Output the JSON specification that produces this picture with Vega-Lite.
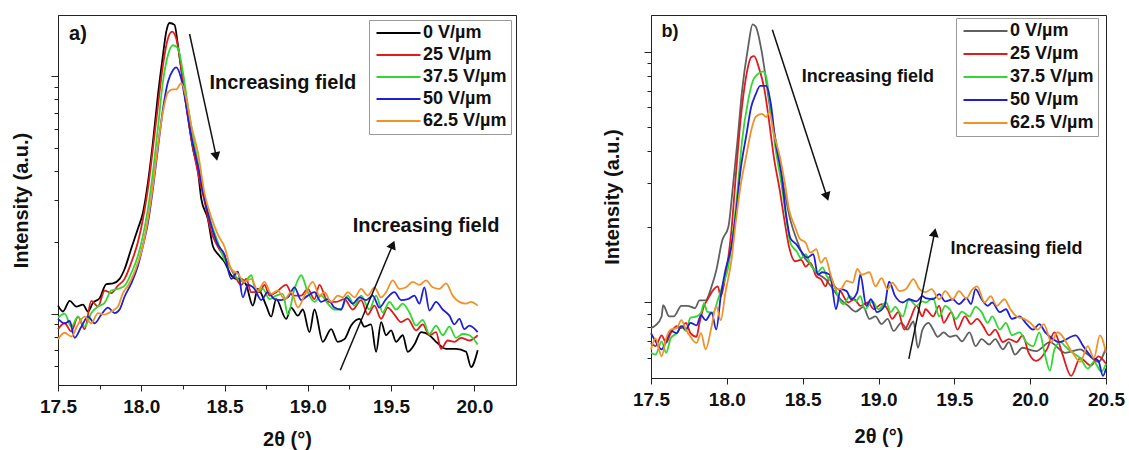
{
  "$schema": "https://vega.github.io/schema/vega-lite/v6.json",
  "padding": {"left": 11, "top": 14, "right": 5, "bottom": 0},
  "background": "white",
  "spacing": 85,
  "config": {
    "font": "Liberation Sans",
    "view": {"stroke": "#222222", "strokeWidth": 1},
    "axis": {"domainColor": "#222222", "tickColor": "#222222", "grid": false, "labelFont": "Liberation Sans", "labelFontWeight": "bold", "labelFontSize": 19, "labelColor": "#111111", "titleFont": "Liberation Sans", "titleFontWeight": "bold", "titleFontSize": 20, "titleColor": "#111111"},
    "legend": {"labelFont": "Liberation Sans", "labelColor": "#111111"}
  },
  "resolve": {"scale": {"color": "independent"}, "legend": {"color": "independent"}},
  "datasets": {
    "a": [
      {"E":"0 V/µm","tt":17.50,"I":108},{"E":"0 V/µm","tt":17.53,"I":102},{"E":"0 V/µm","tt":17.57,"I":113},{"E":"0 V/µm","tt":17.61,"I":107},{"E":"0 V/µm","tt":17.65,"I":109},{"E":"0 V/µm","tt":17.68,"I":102},{"E":"0 V/µm","tt":17.71,"I":111},{"E":"0 V/µm","tt":17.75,"I":116},{"E":"0 V/µm","tt":17.79,"I":133},{"E":"0 V/µm","tt":17.83,"I":134},{"E":"0 V/µm","tt":17.87,"I":140},{"E":"0 V/µm","tt":17.90,"I":154},{"E":"0 V/µm","tt":17.94,"I":188},{"E":"0 V/µm","tt":17.98,"I":228},{"E":"0 V/µm","tt":18.01,"I":266},{"E":"0 V/µm","tt":18.04,"I":356},{"E":"0 V/µm","tt":18.07,"I":526},{"E":"0 V/µm","tt":18.10,"I":832},{"E":"0 V/µm","tt":18.13,"I":1225},{"E":"0 V/µm","tt":18.15,"I":1540},{"E":"0 V/µm","tt":18.17,"I":1675},{"E":"0 V/µm","tt":18.20,"I":1645},{"E":"0 V/µm","tt":18.22,"I":1350},{"E":"0 V/µm","tt":18.25,"I":950},{"E":"0 V/µm","tt":18.28,"I":680},{"E":"0 V/µm","tt":18.31,"I":497},{"E":"0 V/µm","tt":18.34,"I":400},{"E":"0 V/µm","tt":18.36,"I":305},{"E":"0 V/µm","tt":18.40,"I":250},{"E":"0 V/µm","tt":18.43,"I":192},{"E":"0 V/µm","tt":18.46,"I":178},{"E":"0 V/µm","tt":18.50,"I":165},{"E":"0 V/µm","tt":18.54,"I":145},{"E":"0 V/µm","tt":18.57,"I":140},{"E":"0 V/µm","tt":18.60,"I":140},{"E":"0 V/µm","tt":18.63,"I":132},{"E":"0 V/µm","tt":18.67,"I":108},{"E":"0 V/µm","tt":18.70,"I":127},{"E":"0 V/µm","tt":18.75,"I":108},{"E":"0 V/µm","tt":18.78,"I":97},{"E":"0 V/µm","tt":18.81,"I":115},{"E":"0 V/µm","tt":18.87,"I":95},{"E":"0 V/µm","tt":18.90,"I":106},{"E":"0 V/µm","tt":18.94,"I":98},{"E":"0 V/µm","tt":18.97,"I":104},{"E":"0 V/µm","tt":19.01,"I":83.5},{"E":"0 V/µm","tt":19.04,"I":104},{"E":"0 V/µm","tt":19.09,"I":76},{"E":"0 V/µm","tt":19.14,"I":86},{"E":"0 V/µm","tt":19.18,"I":76},{"E":"0 V/µm","tt":19.22,"I":78},{"E":"0 V/µm","tt":19.26,"I":89},{"E":"0 V/µm","tt":19.31,"I":95},{"E":"0 V/µm","tt":19.34,"I":88},{"E":"0 V/µm","tt":19.38,"I":90},{"E":"0 V/µm","tt":19.41,"I":69},{"E":"0 V/µm","tt":19.44,"I":92},{"E":"0 V/µm","tt":19.47,"I":81},{"E":"0 V/µm","tt":19.50,"I":85},{"E":"0 V/µm","tt":19.53,"I":76},{"E":"0 V/µm","tt":19.57,"I":81},{"E":"0 V/µm","tt":19.60,"I":69},{"E":"0 V/µm","tt":19.64,"I":74},{"E":"0 V/µm","tt":19.68,"I":83.5},{"E":"0 V/µm","tt":19.73,"I":81},{"E":"0 V/µm","tt":19.77,"I":76},{"E":"0 V/µm","tt":19.83,"I":71},{"E":"0 V/µm","tt":19.89,"I":71},{"E":"0 V/µm","tt":19.95,"I":69},{"E":"0 V/µm","tt":19.98,"I":59.5},{"E":"0 V/µm","tt":20.02,"I":70},
      {"E":"25 V/µm","tt":17.50,"I":86},{"E":"25 V/µm","tt":17.54,"I":91},{"E":"25 V/µm","tt":17.58,"I":84},{"E":"25 V/µm","tt":17.62,"I":97},{"E":"25 V/µm","tt":17.66,"I":86},{"E":"25 V/µm","tt":17.70,"I":113},{"E":"25 V/µm","tt":17.74,"I":107},{"E":"25 V/µm","tt":17.78,"I":125},{"E":"25 V/µm","tt":17.82,"I":122},{"E":"25 V/µm","tt":17.86,"I":131},{"E":"25 V/µm","tt":17.90,"I":140},{"E":"25 V/µm","tt":17.94,"I":164},{"E":"25 V/µm","tt":17.98,"I":200},{"E":"25 V/µm","tt":18.01,"I":250},{"E":"25 V/µm","tt":18.04,"I":336},{"E":"25 V/µm","tt":18.07,"I":497},{"E":"25 V/µm","tt":18.10,"I":750},{"E":"25 V/µm","tt":18.13,"I":1110},{"E":"25 V/µm","tt":18.16,"I":1440},{"E":"25 V/µm","tt":18.185,"I":1540},{"E":"25 V/µm","tt":18.21,"I":1440},{"E":"25 V/µm","tt":18.24,"I":1080},{"E":"25 V/µm","tt":18.27,"I":750},{"E":"25 V/µm","tt":18.30,"I":547},{"E":"25 V/µm","tt":18.34,"I":393},{"E":"25 V/µm","tt":18.38,"I":296},{"E":"25 V/µm","tt":18.42,"I":221},{"E":"25 V/µm","tt":18.46,"I":191},{"E":"25 V/µm","tt":18.50,"I":173},{"E":"25 V/µm","tt":18.56,"I":145},{"E":"25 V/µm","tt":18.60,"I":132},{"E":"25 V/µm","tt":18.63,"I":140},{"E":"25 V/µm","tt":18.66,"I":123},{"E":"25 V/µm","tt":18.71,"I":123},{"E":"25 V/µm","tt":18.74,"I":132},{"E":"25 V/µm","tt":18.77,"I":119},{"E":"25 V/µm","tt":18.81,"I":123},{"E":"25 V/µm","tt":18.87,"I":132},{"E":"25 V/µm","tt":18.91,"I":119},{"E":"25 V/µm","tt":18.96,"I":119},{"E":"25 V/µm","tt":19.00,"I":127},{"E":"25 V/µm","tt":19.04,"I":115},{"E":"25 V/µm","tt":19.07,"I":132},{"E":"25 V/µm","tt":19.12,"I":112},{"E":"25 V/µm","tt":19.17,"I":112},{"E":"25 V/µm","tt":19.22,"I":115},{"E":"25 V/µm","tt":19.27,"I":104},{"E":"25 V/µm","tt":19.32,"I":114},{"E":"25 V/µm","tt":19.36,"I":99},{"E":"25 V/µm","tt":19.40,"I":108},{"E":"25 V/µm","tt":19.44,"I":95},{"E":"25 V/µm","tt":19.48,"I":106},{"E":"25 V/µm","tt":19.52,"I":99},{"E":"25 V/µm","tt":19.56,"I":92},{"E":"25 V/µm","tt":19.60,"I":95},{"E":"25 V/µm","tt":19.65,"I":85},{"E":"25 V/µm","tt":19.69,"I":90},{"E":"25 V/µm","tt":19.73,"I":81},{"E":"25 V/µm","tt":19.77,"I":83.5},{"E":"25 V/µm","tt":19.80,"I":71},{"E":"25 V/µm","tt":19.84,"I":77},{"E":"25 V/µm","tt":19.88,"I":76},{"E":"25 V/µm","tt":19.92,"I":79},{"E":"25 V/µm","tt":19.97,"I":77},{"E":"25 V/µm","tt":20.02,"I":81},
      {"E":"37.5 V/µm","tt":17.50,"I":96},{"E":"37.5 V/µm","tt":17.54,"I":100},{"E":"37.5 V/µm","tt":17.58,"I":88},{"E":"37.5 V/µm","tt":17.62,"I":97},{"E":"37.5 V/µm","tt":17.66,"I":88},{"E":"37.5 V/µm","tt":17.70,"I":100.5},{"E":"37.5 V/µm","tt":17.74,"I":107},{"E":"37.5 V/µm","tt":17.78,"I":111},{"E":"37.5 V/µm","tt":17.82,"I":125},{"E":"37.5 V/µm","tt":17.86,"I":127},{"E":"37.5 V/µm","tt":17.90,"I":131},{"E":"37.5 V/µm","tt":17.94,"I":148},{"E":"37.5 V/µm","tt":17.98,"I":175},{"E":"37.5 V/µm","tt":18.01,"I":213},{"E":"37.5 V/µm","tt":18.04,"I":276},{"E":"37.5 V/µm","tt":18.07,"I":393},{"E":"37.5 V/µm","tt":18.10,"I":605},{"E":"37.5 V/µm","tt":18.13,"I":945},{"E":"37.5 V/µm","tt":18.16,"I":1225},{"E":"37.5 V/µm","tt":18.19,"I":1350},{"E":"37.5 V/µm","tt":18.22,"I":1310},{"E":"37.5 V/µm","tt":18.25,"I":1040},{"E":"37.5 V/µm","tt":18.28,"I":750},{"E":"37.5 V/µm","tt":18.31,"I":560},{"E":"37.5 V/µm","tt":18.34,"I":432},{"E":"37.5 V/µm","tt":18.38,"I":310},{"E":"37.5 V/µm","tt":18.42,"I":240},{"E":"37.5 V/µm","tt":18.46,"I":200},{"E":"37.5 V/µm","tt":18.50,"I":168},{"E":"37.5 V/µm","tt":18.54,"I":154},{"E":"37.5 V/µm","tt":18.58,"I":140},{"E":"37.5 V/µm","tt":18.62,"I":136},{"E":"37.5 V/µm","tt":18.66,"I":145},{"E":"37.5 V/µm","tt":18.69,"I":123},{"E":"37.5 V/µm","tt":18.73,"I":127},{"E":"37.5 V/µm","tt":18.77,"I":115},{"E":"37.5 V/µm","tt":18.81,"I":119},{"E":"37.5 V/µm","tt":18.85,"I":121},{"E":"37.5 V/µm","tt":18.88,"I":99},{"E":"37.5 V/µm","tt":18.92,"I":127},{"E":"37.5 V/µm","tt":18.96,"I":145},{"E":"37.5 V/µm","tt":19.00,"I":123},{"E":"37.5 V/µm","tt":19.04,"I":112},{"E":"37.5 V/µm","tt":19.08,"I":119},{"E":"37.5 V/µm","tt":19.12,"I":110},{"E":"37.5 V/µm","tt":19.16,"I":104},{"E":"37.5 V/µm","tt":19.20,"I":104},{"E":"37.5 V/µm","tt":19.24,"I":119},{"E":"37.5 V/µm","tt":19.28,"I":108},{"E":"37.5 V/µm","tt":19.32,"I":119},{"E":"37.5 V/µm","tt":19.37,"I":104},{"E":"37.5 V/µm","tt":19.41,"I":119},{"E":"37.5 V/µm","tt":19.45,"I":101},{"E":"37.5 V/µm","tt":19.49,"I":112},{"E":"37.5 V/µm","tt":19.53,"I":104},{"E":"37.5 V/µm","tt":19.57,"I":110},{"E":"37.5 V/µm","tt":19.61,"I":101},{"E":"37.5 V/µm","tt":19.65,"I":89},{"E":"37.5 V/µm","tt":19.69,"I":94},{"E":"37.5 V/µm","tt":19.73,"I":82},{"E":"37.5 V/µm","tt":19.77,"I":89},{"E":"37.5 V/µm","tt":19.81,"I":81},{"E":"37.5 V/µm","tt":19.85,"I":88},{"E":"37.5 V/µm","tt":19.89,"I":79},{"E":"37.5 V/µm","tt":19.93,"I":82},{"E":"37.5 V/µm","tt":19.97,"I":81},{"E":"37.5 V/µm","tt":20.02,"I":74},
      {"E":"50 V/µm","tt":17.50,"I":95},{"E":"50 V/µm","tt":17.54,"I":91},{"E":"50 V/µm","tt":17.57,"I":93},{"E":"50 V/µm","tt":17.60,"I":79},{"E":"50 V/µm","tt":17.64,"I":88},{"E":"50 V/µm","tt":17.68,"I":97},{"E":"50 V/µm","tt":17.72,"I":91},{"E":"50 V/µm","tt":17.76,"I":99},{"E":"50 V/µm","tt":17.80,"I":106},{"E":"50 V/µm","tt":17.84,"I":100.5},{"E":"50 V/µm","tt":17.87,"I":104},{"E":"50 V/µm","tt":17.90,"I":118},{"E":"50 V/µm","tt":17.94,"I":134},{"E":"50 V/µm","tt":17.98,"I":159},{"E":"50 V/µm","tt":18.01,"I":193},{"E":"50 V/µm","tt":18.04,"I":241},{"E":"50 V/µm","tt":18.07,"I":336},{"E":"50 V/µm","tt":18.10,"I":497},{"E":"50 V/µm","tt":18.13,"I":725},{"E":"50 V/µm","tt":18.16,"I":945},{"E":"50 V/µm","tt":18.19,"I":1060},{"E":"50 V/µm","tt":18.21,"I":1090},{"E":"50 V/µm","tt":18.24,"I":975},{"E":"50 V/µm","tt":18.27,"I":750},{"E":"50 V/µm","tt":18.30,"I":560},{"E":"50 V/µm","tt":18.34,"I":420},{"E":"50 V/µm","tt":18.38,"I":305},{"E":"50 V/µm","tt":18.42,"I":235},{"E":"50 V/µm","tt":18.46,"I":195},{"E":"50 V/µm","tt":18.50,"I":177},{"E":"50 V/µm","tt":18.54,"I":140},{"E":"50 V/µm","tt":18.58,"I":150},{"E":"50 V/µm","tt":18.61,"I":117},{"E":"50 V/µm","tt":18.64,"I":132},{"E":"50 V/µm","tt":18.68,"I":127},{"E":"50 V/µm","tt":18.72,"I":114},{"E":"50 V/µm","tt":18.76,"I":123},{"E":"50 V/µm","tt":18.80,"I":115},{"E":"50 V/µm","tt":18.84,"I":114},{"E":"50 V/µm","tt":18.88,"I":117},{"E":"50 V/µm","tt":18.92,"I":129},{"E":"50 V/µm","tt":18.96,"I":114},{"E":"50 V/µm","tt":19.00,"I":119},{"E":"50 V/µm","tt":19.04,"I":123},{"E":"50 V/µm","tt":19.08,"I":112},{"E":"50 V/µm","tt":19.12,"I":115},{"E":"50 V/µm","tt":19.16,"I":106},{"E":"50 V/µm","tt":19.20,"I":104},{"E":"50 V/µm","tt":19.23,"I":117},{"E":"50 V/µm","tt":19.27,"I":110},{"E":"50 V/µm","tt":19.31,"I":117},{"E":"50 V/µm","tt":19.35,"I":114},{"E":"50 V/µm","tt":19.39,"I":119},{"E":"50 V/µm","tt":19.43,"I":106},{"E":"50 V/µm","tt":19.47,"I":115},{"E":"50 V/µm","tt":19.52,"I":123},{"E":"50 V/µm","tt":19.56,"I":114},{"E":"50 V/µm","tt":19.60,"I":115},{"E":"50 V/µm","tt":19.64,"I":119},{"E":"50 V/µm","tt":19.67,"I":110},{"E":"50 V/µm","tt":19.70,"I":129},{"E":"50 V/µm","tt":19.73,"I":103},{"E":"50 V/µm","tt":19.77,"I":112},{"E":"50 V/µm","tt":19.81,"I":104},{"E":"50 V/µm","tt":19.85,"I":98},{"E":"50 V/µm","tt":19.88,"I":90},{"E":"50 V/µm","tt":19.91,"I":95},{"E":"50 V/µm","tt":19.94,"I":86},{"E":"50 V/µm","tt":19.97,"I":89},{"E":"50 V/µm","tt":20.02,"I":83.5},
      {"E":"62.5 V/µm","tt":17.50,"I":78},{"E":"62.5 V/µm","tt":17.54,"I":83},{"E":"62.5 V/µm","tt":17.58,"I":80},{"E":"62.5 V/µm","tt":17.62,"I":90},{"E":"62.5 V/µm","tt":17.66,"I":97},{"E":"62.5 V/µm","tt":17.70,"I":91},{"E":"62.5 V/µm","tt":17.74,"I":100.5},{"E":"62.5 V/µm","tt":17.78,"I":99},{"E":"62.5 V/µm","tt":17.82,"I":102},{"E":"62.5 V/µm","tt":17.86,"I":107},{"E":"62.5 V/µm","tt":17.89,"I":122},{"E":"62.5 V/µm","tt":17.92,"I":131},{"E":"62.5 V/µm","tt":17.95,"I":144},{"E":"62.5 V/µm","tt":17.98,"I":164},{"E":"62.5 V/µm","tt":18.01,"I":193},{"E":"62.5 V/µm","tt":18.04,"I":250},{"E":"62.5 V/µm","tt":18.07,"I":345},{"E":"62.5 V/µm","tt":18.10,"I":510},{"E":"62.5 V/µm","tt":18.13,"I":705},{"E":"62.5 V/µm","tt":18.16,"I":855},{"E":"62.5 V/µm","tt":18.19,"I":880},{"E":"62.5 V/µm","tt":18.21,"I":880},{"E":"62.5 V/µm","tt":18.24,"I":935},{"E":"62.5 V/µm","tt":18.27,"I":805},{"E":"62.5 V/µm","tt":18.30,"I":620},{"E":"62.5 V/µm","tt":18.34,"I":477},{"E":"62.5 V/µm","tt":18.38,"I":320},{"E":"62.5 V/µm","tt":18.42,"I":255},{"E":"62.5 V/µm","tt":18.46,"I":215},{"E":"62.5 V/µm","tt":18.50,"I":191},{"E":"62.5 V/µm","tt":18.54,"I":154},{"E":"62.5 V/µm","tt":18.58,"I":147},{"E":"62.5 V/µm","tt":18.62,"I":136},{"E":"62.5 V/µm","tt":18.66,"I":140},{"E":"62.5 V/µm","tt":18.70,"I":125},{"E":"62.5 V/µm","tt":18.74,"I":136},{"E":"62.5 V/µm","tt":18.78,"I":121},{"E":"62.5 V/µm","tt":18.82,"I":125},{"E":"62.5 V/µm","tt":18.86,"I":115},{"E":"62.5 V/µm","tt":18.90,"I":123},{"E":"62.5 V/µm","tt":18.94,"I":106},{"E":"62.5 V/µm","tt":18.98,"I":119},{"E":"62.5 V/µm","tt":19.03,"I":136},{"E":"62.5 V/µm","tt":19.07,"I":119},{"E":"62.5 V/µm","tt":19.10,"I":123},{"E":"62.5 V/µm","tt":19.14,"I":112},{"E":"62.5 V/µm","tt":19.18,"I":119},{"E":"62.5 V/µm","tt":19.21,"I":117},{"E":"62.5 V/µm","tt":19.24,"I":123},{"E":"62.5 V/µm","tt":19.28,"I":117},{"E":"62.5 V/µm","tt":19.32,"I":127},{"E":"62.5 V/µm","tt":19.36,"I":119},{"E":"62.5 V/µm","tt":19.40,"I":129},{"E":"62.5 V/µm","tt":19.44,"I":117},{"E":"62.5 V/µm","tt":19.47,"I":123},{"E":"62.5 V/µm","tt":19.51,"I":138},{"E":"62.5 V/µm","tt":19.55,"I":127},{"E":"62.5 V/µm","tt":19.59,"I":129},{"E":"62.5 V/µm","tt":19.63,"I":136},{"E":"62.5 V/µm","tt":19.67,"I":132},{"E":"62.5 V/µm","tt":19.71,"I":138},{"E":"62.5 V/µm","tt":19.75,"I":129},{"E":"62.5 V/µm","tt":19.79,"I":127},{"E":"62.5 V/µm","tt":19.83,"I":134},{"E":"62.5 V/µm","tt":19.87,"I":119},{"E":"62.5 V/µm","tt":19.91,"I":112},{"E":"62.5 V/µm","tt":19.95,"I":110},{"E":"62.5 V/µm","tt":19.98,"I":112},{"E":"62.5 V/µm","tt":20.02,"I":108}
    ],
    "b": [
      {"E":"0 V/µm","tt":17.50,"I":79},{"E":"0 V/µm","tt":17.53,"I":81},{"E":"0 V/µm","tt":17.57,"I":88},{"E":"0 V/µm","tt":17.58,"I":97.5},{"E":"0 V/µm","tt":17.62,"I":88},{"E":"0 V/µm","tt":17.65,"I":88},{"E":"0 V/µm","tt":17.70,"I":97},{"E":"0 V/µm","tt":17.74,"I":97},{"E":"0 V/µm","tt":17.79,"I":95},{"E":"0 V/µm","tt":17.82,"I":102},{"E":"0 V/µm","tt":17.86,"I":102},{"E":"0 V/µm","tt":17.90,"I":116},{"E":"0 V/µm","tt":17.93,"I":134},{"E":"0 V/µm","tt":17.97,"I":177},{"E":"0 V/µm","tt":18.01,"I":200},{"E":"0 V/µm","tt":18.04,"I":290},{"E":"0 V/µm","tt":18.07,"I":440},{"E":"0 V/µm","tt":18.10,"I":695},{"E":"0 V/µm","tt":18.14,"I":1040},{"E":"0 V/µm","tt":18.17,"I":1285},{"E":"0 V/µm","tt":18.19,"I":1260},{"E":"0 V/µm","tt":18.23,"I":1000},{"E":"0 V/µm","tt":18.26,"I":760},{"E":"0 V/µm","tt":18.29,"I":565},{"E":"0 V/µm","tt":18.34,"I":390},{"E":"0 V/µm","tt":18.38,"I":278},{"E":"0 V/µm","tt":18.42,"I":212},{"E":"0 V/µm","tt":18.47,"I":172},{"E":"0 V/µm","tt":18.50,"I":155},{"E":"0 V/µm","tt":18.55,"I":142},{"E":"0 V/µm","tt":18.60,"I":130},{"E":"0 V/µm","tt":18.65,"I":124},{"E":"0 V/µm","tt":18.70,"I":113},{"E":"0 V/µm","tt":18.75,"I":103},{"E":"0 V/µm","tt":18.80,"I":97},{"E":"0 V/µm","tt":18.85,"I":92},{"E":"0 V/µm","tt":18.90,"I":96},{"E":"0 V/µm","tt":18.94,"I":86},{"E":"0 V/µm","tt":18.98,"I":88},{"E":"0 V/µm","tt":19.02,"I":82},{"E":"0 V/µm","tt":19.06,"I":86},{"E":"0 V/µm","tt":19.10,"I":77},{"E":"0 V/µm","tt":19.15,"I":83},{"E":"0 V/µm","tt":19.19,"I":78},{"E":"0 V/µm","tt":19.23,"I":84},{"E":"0 V/µm","tt":19.26,"I":66},{"E":"0 V/µm","tt":19.29,"I":78},{"E":"0 V/µm","tt":19.33,"I":83},{"E":"0 V/µm","tt":19.36,"I":78},{"E":"0 V/µm","tt":19.39,"I":73},{"E":"0 V/µm","tt":19.43,"I":76},{"E":"0 V/µm","tt":19.47,"I":73},{"E":"0 V/µm","tt":19.51,"I":74},{"E":"0 V/µm","tt":19.55,"I":70},{"E":"0 V/µm","tt":19.60,"I":76},{"E":"0 V/µm","tt":19.64,"I":67},{"E":"0 V/µm","tt":19.68,"I":71.5},{"E":"0 V/µm","tt":19.73,"I":68},{"E":"0 V/µm","tt":19.77,"I":71.5},{"E":"0 V/µm","tt":19.82,"I":65},{"E":"0 V/µm","tt":19.86,"I":69.5},{"E":"0 V/µm","tt":19.90,"I":62},{"E":"0 V/µm","tt":19.95,"I":66},{"E":"0 V/µm","tt":19.99,"I":65},{"E":"0 V/µm","tt":20.04,"I":64},{"E":"0 V/µm","tt":20.13,"I":69.5},{"E":"0 V/µm","tt":20.23,"I":63},{"E":"0 V/µm","tt":20.33,"I":65},{"E":"0 V/µm","tt":20.38,"I":62},{"E":"0 V/µm","tt":20.45,"I":58},{"E":"0 V/µm","tt":20.50,"I":66},
      {"E":"25 V/µm","tt":17.50,"I":69},{"E":"25 V/µm","tt":17.53,"I":67},{"E":"25 V/µm","tt":17.57,"I":74},{"E":"25 V/µm","tt":17.60,"I":69},{"E":"25 V/µm","tt":17.63,"I":75.5},{"E":"25 V/µm","tt":17.67,"I":80.5},{"E":"25 V/µm","tt":17.70,"I":79},{"E":"25 V/µm","tt":17.73,"I":83},{"E":"25 V/µm","tt":17.76,"I":75.5},{"E":"25 V/µm","tt":17.80,"I":73},{"E":"25 V/µm","tt":17.82,"I":83},{"E":"25 V/µm","tt":17.85,"I":97},{"E":"25 V/µm","tt":17.87,"I":102},{"E":"25 V/µm","tt":17.91,"I":112},{"E":"25 V/µm","tt":17.94,"I":116},{"E":"25 V/µm","tt":17.96,"I":106},{"E":"25 V/µm","tt":17.99,"I":127},{"E":"25 V/µm","tt":18.03,"I":193},{"E":"25 V/µm","tt":18.06,"I":325},{"E":"25 V/µm","tt":18.09,"I":529},{"E":"25 V/µm","tt":18.13,"I":813},{"E":"25 V/µm","tt":18.16,"I":950},{"E":"25 V/µm","tt":18.18,"I":960},{"E":"25 V/µm","tt":18.21,"I":868},{"E":"25 V/µm","tt":18.25,"I":695},{"E":"25 V/µm","tt":18.28,"I":520},{"E":"25 V/µm","tt":18.31,"I":380},{"E":"25 V/µm","tt":18.35,"I":278},{"E":"25 V/µm","tt":18.38,"I":212},{"E":"25 V/µm","tt":18.41,"I":167},{"E":"25 V/µm","tt":18.45,"I":146},{"E":"25 V/µm","tt":18.47,"I":147},{"E":"25 V/µm","tt":18.49,"I":148},{"E":"25 V/µm","tt":18.52,"I":139},{"E":"25 V/µm","tt":18.55,"I":144},{"E":"25 V/µm","tt":18.59,"I":127},{"E":"25 V/µm","tt":18.62,"I":124},{"E":"25 V/µm","tt":18.65,"I":116},{"E":"25 V/µm","tt":18.68,"I":127},{"E":"25 V/µm","tt":18.71,"I":116},{"E":"25 V/µm","tt":18.75,"I":111},{"E":"25 V/µm","tt":18.80,"I":100},{"E":"25 V/µm","tt":18.84,"I":103},{"E":"25 V/µm","tt":18.88,"I":97},{"E":"25 V/µm","tt":18.93,"I":100},{"E":"25 V/µm","tt":18.97,"I":94},{"E":"25 V/µm","tt":19.02,"I":98.5},{"E":"25 V/µm","tt":19.06,"I":94},{"E":"25 V/µm","tt":19.09,"I":86},{"E":"25 V/µm","tt":19.13,"I":91.5},{"E":"25 V/µm","tt":19.17,"I":78},{"E":"25 V/µm","tt":19.21,"I":86},{"E":"25 V/µm","tt":19.25,"I":97},{"E":"25 V/µm","tt":19.29,"I":88},{"E":"25 V/µm","tt":19.31,"I":94},{"E":"25 V/µm","tt":19.36,"I":88},{"E":"25 V/µm","tt":19.40,"I":97},{"E":"25 V/µm","tt":19.43,"I":83},{"E":"25 V/µm","tt":19.48,"I":91.5},{"E":"25 V/µm","tt":19.52,"I":78},{"E":"25 V/µm","tt":19.57,"I":88},{"E":"25 V/µm","tt":19.61,"I":82},{"E":"25 V/µm","tt":19.65,"I":86},{"E":"25 V/µm","tt":19.69,"I":80.5},{"E":"25 V/µm","tt":19.73,"I":74},{"E":"25 V/µm","tt":19.77,"I":78},{"E":"25 V/µm","tt":19.82,"I":69.5},{"E":"25 V/µm","tt":19.86,"I":71.5},{"E":"25 V/µm","tt":19.91,"I":69.5},{"E":"25 V/µm","tt":19.95,"I":74},{"E":"25 V/µm","tt":19.99,"I":63},{"E":"25 V/µm","tt":20.04,"I":58.5},{"E":"25 V/µm","tt":20.11,"I":65},{"E":"25 V/µm","tt":20.16,"I":76},{"E":"25 V/µm","tt":20.21,"I":63},{"E":"25 V/µm","tt":20.27,"I":51},{"E":"25 V/µm","tt":20.33,"I":60},{"E":"25 V/µm","tt":20.40,"I":56},{"E":"25 V/µm","tt":20.45,"I":61},{"E":"25 V/µm","tt":20.50,"I":57},
      {"E":"37.5 V/µm","tt":17.50,"I":63},{"E":"37.5 V/µm","tt":17.53,"I":62},{"E":"37.5 V/µm","tt":17.57,"I":70},{"E":"37.5 V/µm","tt":17.60,"I":63},{"E":"37.5 V/µm","tt":17.63,"I":72},{"E":"37.5 V/µm","tt":17.67,"I":75.5},{"E":"37.5 V/µm","tt":17.70,"I":80.5},{"E":"37.5 V/µm","tt":17.73,"I":77},{"E":"37.5 V/µm","tt":17.76,"I":87},{"E":"37.5 V/µm","tt":17.80,"I":88},{"E":"37.5 V/µm","tt":17.83,"I":91},{"E":"37.5 V/µm","tt":17.85,"I":99.5},{"E":"37.5 V/µm","tt":17.87,"I":92},{"E":"37.5 V/µm","tt":17.91,"I":91},{"E":"37.5 V/µm","tt":17.94,"I":102},{"E":"37.5 V/µm","tt":17.97,"I":116},{"E":"37.5 V/µm","tt":18.01,"I":139},{"E":"37.5 V/µm","tt":18.04,"I":188},{"E":"37.5 V/µm","tt":18.07,"I":278},{"E":"37.5 V/µm","tt":18.10,"I":440},{"E":"37.5 V/µm","tt":18.14,"I":635},{"E":"37.5 V/µm","tt":18.17,"I":760},{"E":"37.5 V/µm","tt":18.20,"I":810},{"E":"37.5 V/µm","tt":18.24,"I":835},{"E":"37.5 V/µm","tt":18.26,"I":790},{"E":"37.5 V/µm","tt":18.29,"I":580},{"E":"37.5 V/µm","tt":18.32,"I":415},{"E":"37.5 V/µm","tt":18.36,"I":297},{"E":"37.5 V/µm","tt":18.39,"I":220},{"E":"37.5 V/µm","tt":18.42,"I":172},{"E":"37.5 V/µm","tt":18.46,"I":160},{"E":"37.5 V/µm","tt":18.49,"I":150},{"E":"37.5 V/µm","tt":18.52,"I":156},{"E":"37.5 V/µm","tt":18.55,"I":142},{"E":"37.5 V/µm","tt":18.60,"I":132},{"E":"37.5 V/µm","tt":18.63,"I":138},{"E":"37.5 V/µm","tt":18.66,"I":127},{"E":"37.5 V/µm","tt":18.71,"I":116},{"E":"37.5 V/µm","tt":18.74,"I":103},{"E":"37.5 V/µm","tt":18.77,"I":98.5},{"E":"37.5 V/µm","tt":18.81,"I":106},{"E":"37.5 V/µm","tt":18.85,"I":101},{"E":"37.5 V/µm","tt":18.88,"I":106},{"E":"37.5 V/µm","tt":18.91,"I":94},{"E":"37.5 V/µm","tt":18.96,"I":101},{"E":"37.5 V/µm","tt":19.00,"I":94},{"E":"37.5 V/µm","tt":19.05,"I":100},{"E":"37.5 V/µm","tt":19.08,"I":91.5},{"E":"37.5 V/µm","tt":19.11,"I":96},{"E":"37.5 V/µm","tt":19.16,"I":88},{"E":"37.5 V/µm","tt":19.20,"I":103},{"E":"37.5 V/µm","tt":19.25,"I":97},{"E":"37.5 V/µm","tt":19.29,"I":101},{"E":"37.5 V/µm","tt":19.31,"I":100},{"E":"37.5 V/µm","tt":19.36,"I":104},{"E":"37.5 V/µm","tt":19.40,"I":88},{"E":"37.5 V/µm","tt":19.44,"I":97},{"E":"37.5 V/µm","tt":19.47,"I":94},{"E":"37.5 V/µm","tt":19.51,"I":86},{"E":"37.5 V/µm","tt":19.55,"I":92},{"E":"37.5 V/µm","tt":19.60,"I":88},{"E":"37.5 V/µm","tt":19.64,"I":96},{"E":"37.5 V/µm","tt":19.68,"I":91.5},{"E":"37.5 V/µm","tt":19.72,"I":83},{"E":"37.5 V/µm","tt":19.75,"I":88},{"E":"37.5 V/µm","tt":19.80,"I":78},{"E":"37.5 V/µm","tt":19.84,"I":83},{"E":"37.5 V/µm","tt":19.88,"I":74},{"E":"37.5 V/µm","tt":19.93,"I":76},{"E":"37.5 V/µm","tt":19.97,"I":70},{"E":"37.5 V/µm","tt":20.02,"I":67},{"E":"37.5 V/µm","tt":20.06,"I":76},{"E":"37.5 V/µm","tt":20.10,"I":61},{"E":"37.5 V/µm","tt":20.13,"I":53.5},{"E":"37.5 V/µm","tt":20.16,"I":65},{"E":"37.5 V/µm","tt":20.20,"I":69.5},{"E":"37.5 V/µm","tt":20.23,"I":67},{"E":"37.5 V/µm","tt":20.28,"I":63},{"E":"37.5 V/µm","tt":20.33,"I":60},{"E":"37.5 V/µm","tt":20.38,"I":54.5},{"E":"37.5 V/µm","tt":20.42,"I":58},{"E":"37.5 V/µm","tt":20.47,"I":53},{"E":"37.5 V/µm","tt":20.50,"I":57},
      {"E":"50 V/µm","tt":17.50,"I":75.5},{"E":"50 V/µm","tt":17.53,"I":70},{"E":"50 V/µm","tt":17.57,"I":65},{"E":"50 V/µm","tt":17.60,"I":70},{"E":"50 V/µm","tt":17.63,"I":77},{"E":"50 V/µm","tt":17.67,"I":75.5},{"E":"50 V/µm","tt":17.70,"I":80.5},{"E":"50 V/µm","tt":17.73,"I":78},{"E":"50 V/µm","tt":17.76,"I":83},{"E":"50 V/µm","tt":17.80,"I":81},{"E":"50 V/µm","tt":17.83,"I":89},{"E":"50 V/µm","tt":17.86,"I":85},{"E":"50 V/µm","tt":17.90,"I":91},{"E":"50 V/µm","tt":17.93,"I":78},{"E":"50 V/µm","tt":17.96,"I":106},{"E":"50 V/µm","tt":17.99,"I":134},{"E":"50 V/µm","tt":18.03,"I":167},{"E":"50 V/µm","tt":18.06,"I":226},{"E":"50 V/µm","tt":18.09,"I":335},{"E":"50 V/µm","tt":18.13,"I":470},{"E":"50 V/µm","tt":18.16,"I":600},{"E":"50 V/µm","tt":18.19,"I":675},{"E":"50 V/µm","tt":18.22,"I":730},{"E":"50 V/µm","tt":18.26,"I":730},{"E":"50 V/µm","tt":18.29,"I":620},{"E":"50 V/µm","tt":18.32,"I":440},{"E":"50 V/µm","tt":18.36,"I":325},{"E":"50 V/µm","tt":18.39,"I":226},{"E":"50 V/µm","tt":18.42,"I":180},{"E":"50 V/µm","tt":18.46,"I":170},{"E":"50 V/µm","tt":18.49,"I":160},{"E":"50 V/µm","tt":18.53,"I":151},{"E":"50 V/µm","tt":18.57,"I":156},{"E":"50 V/µm","tt":18.60,"I":129},{"E":"50 V/µm","tt":18.63,"I":132},{"E":"50 V/µm","tt":18.68,"I":129},{"E":"50 V/µm","tt":18.72,"I":94},{"E":"50 V/µm","tt":18.75,"I":113},{"E":"50 V/µm","tt":18.79,"I":111},{"E":"50 V/µm","tt":18.82,"I":103},{"E":"50 V/µm","tt":18.86,"I":110},{"E":"50 V/µm","tt":18.88,"I":129},{"E":"50 V/µm","tt":18.92,"I":97},{"E":"50 V/µm","tt":18.95,"I":103},{"E":"50 V/µm","tt":18.99,"I":91.5},{"E":"50 V/µm","tt":19.04,"I":97},{"E":"50 V/µm","tt":19.07,"I":121},{"E":"50 V/µm","tt":19.11,"I":106},{"E":"50 V/µm","tt":19.16,"I":100},{"E":"50 V/µm","tt":19.20,"I":103},{"E":"50 V/µm","tt":19.25,"I":101},{"E":"50 V/µm","tt":19.29,"I":106},{"E":"50 V/µm","tt":19.31,"I":104},{"E":"50 V/µm","tt":19.36,"I":103},{"E":"50 V/µm","tt":19.40,"I":108},{"E":"50 V/µm","tt":19.44,"I":101},{"E":"50 V/µm","tt":19.49,"I":103},{"E":"50 V/µm","tt":19.53,"I":98.5},{"E":"50 V/µm","tt":19.58,"I":104},{"E":"50 V/µm","tt":19.61,"I":98.5},{"E":"50 V/µm","tt":19.64,"I":113},{"E":"50 V/µm","tt":19.68,"I":103},{"E":"50 V/µm","tt":19.72,"I":97},{"E":"50 V/µm","tt":19.75,"I":100},{"E":"50 V/µm","tt":19.80,"I":91.5},{"E":"50 V/µm","tt":19.84,"I":94},{"E":"50 V/µm","tt":19.88,"I":86},{"E":"50 V/µm","tt":19.93,"I":88},{"E":"50 V/µm","tt":19.97,"I":83},{"E":"50 V/µm","tt":20.02,"I":78},{"E":"50 V/µm","tt":20.06,"I":82},{"E":"50 V/µm","tt":20.10,"I":76},{"E":"50 V/µm","tt":20.15,"I":71.5},{"E":"50 V/µm","tt":20.19,"I":69.5},{"E":"50 V/µm","tt":20.30,"I":74},{"E":"50 V/µm","tt":20.35,"I":67},{"E":"50 V/µm","tt":20.40,"I":61},{"E":"50 V/µm","tt":20.45,"I":58.5},{"E":"50 V/µm","tt":20.48,"I":51},{"E":"50 V/µm","tt":20.50,"I":54.5},
      {"E":"62.5 V/µm","tt":17.50,"I":65},{"E":"62.5 V/µm","tt":17.53,"I":72},{"E":"62.5 V/µm","tt":17.57,"I":61},{"E":"62.5 V/µm","tt":17.60,"I":72},{"E":"62.5 V/µm","tt":17.63,"I":78},{"E":"62.5 V/µm","tt":17.67,"I":79},{"E":"62.5 V/µm","tt":17.70,"I":85},{"E":"62.5 V/µm","tt":17.73,"I":78},{"E":"62.5 V/µm","tt":17.76,"I":73},{"E":"62.5 V/µm","tt":17.80,"I":69},{"E":"62.5 V/µm","tt":17.83,"I":75.5},{"E":"62.5 V/µm","tt":17.86,"I":65},{"E":"62.5 V/µm","tt":17.90,"I":80.5},{"E":"62.5 V/µm","tt":17.93,"I":97},{"E":"62.5 V/µm","tt":17.96,"I":85},{"E":"62.5 V/µm","tt":17.99,"I":109},{"E":"62.5 V/µm","tt":18.03,"I":147},{"E":"62.5 V/µm","tt":18.06,"I":212},{"E":"62.5 V/µm","tt":18.09,"I":290},{"E":"62.5 V/µm","tt":18.13,"I":390},{"E":"62.5 V/µm","tt":18.16,"I":483},{"E":"62.5 V/µm","tt":18.19,"I":549},{"E":"62.5 V/µm","tt":18.23,"I":565},{"E":"62.5 V/µm","tt":18.26,"I":549},{"E":"62.5 V/µm","tt":18.28,"I":575},{"E":"62.5 V/µm","tt":18.31,"I":470},{"E":"62.5 V/µm","tt":18.35,"I":380},{"E":"62.5 V/µm","tt":18.38,"I":305},{"E":"62.5 V/µm","tt":18.41,"I":235},{"E":"62.5 V/µm","tt":18.45,"I":200},{"E":"62.5 V/µm","tt":18.48,"I":180},{"E":"62.5 V/µm","tt":18.52,"I":173},{"E":"62.5 V/µm","tt":18.55,"I":158},{"E":"62.5 V/µm","tt":18.59,"I":163},{"E":"62.5 V/µm","tt":18.62,"I":144},{"E":"62.5 V/µm","tt":18.65,"I":151},{"E":"62.5 V/µm","tt":18.68,"I":132},{"E":"62.5 V/µm","tt":18.72,"I":113},{"E":"62.5 V/µm","tt":18.75,"I":113},{"E":"62.5 V/µm","tt":18.79,"I":122},{"E":"62.5 V/µm","tt":18.83,"I":120},{"E":"62.5 V/µm","tt":18.86,"I":136},{"E":"62.5 V/µm","tt":18.89,"I":129},{"E":"62.5 V/µm","tt":18.94,"I":132},{"E":"62.5 V/µm","tt":18.98,"I":116},{"E":"62.5 V/µm","tt":19.02,"I":125},{"E":"62.5 V/µm","tt":19.06,"I":113},{"E":"62.5 V/µm","tt":19.09,"I":120},{"E":"62.5 V/µm","tt":19.14,"I":111},{"E":"62.5 V/µm","tt":19.18,"I":113},{"E":"62.5 V/µm","tt":19.23,"I":124},{"E":"62.5 V/µm","tt":19.27,"I":113},{"E":"62.5 V/µm","tt":19.31,"I":110},{"E":"62.5 V/µm","tt":19.35,"I":113},{"E":"62.5 V/µm","tt":19.40,"I":103},{"E":"62.5 V/µm","tt":19.44,"I":111},{"E":"62.5 V/µm","tt":19.49,"I":103},{"E":"62.5 V/µm","tt":19.53,"I":111},{"E":"62.5 V/µm","tt":19.58,"I":104},{"E":"62.5 V/µm","tt":19.62,"I":113},{"E":"62.5 V/µm","tt":19.65,"I":116},{"E":"62.5 V/µm","tt":19.70,"I":100},{"E":"62.5 V/µm","tt":19.74,"I":106},{"E":"62.5 V/µm","tt":19.78,"I":97},{"E":"62.5 V/µm","tt":19.83,"I":103},{"E":"62.5 V/µm","tt":19.87,"I":94},{"E":"62.5 V/µm","tt":19.91,"I":88},{"E":"62.5 V/µm","tt":19.96,"I":86},{"E":"62.5 V/µm","tt":20.00,"I":83},{"E":"62.5 V/µm","tt":20.05,"I":78},{"E":"62.5 V/µm","tt":20.09,"I":82},{"E":"62.5 V/µm","tt":20.14,"I":69.5},{"E":"62.5 V/µm","tt":20.18,"I":76},{"E":"62.5 V/µm","tt":20.28,"I":63},{"E":"62.5 V/µm","tt":20.33,"I":58},{"E":"62.5 V/µm","tt":20.38,"I":67},{"E":"62.5 V/µm","tt":20.42,"I":60},{"E":"62.5 V/µm","tt":20.46,"I":74},{"E":"62.5 V/µm","tt":20.50,"I":63}
    ],
    "notes": [
      {"panel":"a","label":"a)","tt":17.62,"I":1505},
      {"panel":"a","label":"Increasing field","tt":18.85,"I":935},
      {"panel":"a","label":"Increasing field","tt":19.71,"I":234},
      {"panel":"b","label":"b)","tt":17.625,"I":1193},
      {"panel":"b","label":"Increasing field","tt":18.93,"I":791},
      {"panel":"b","label":"Increasing field","tt":19.91,"I":164}
    ],
    "arrows": [
      {"id":"a1","panel":"a","x0":18.29,"y0":1505,"x1":18.45,"y1":459},
      {"id":"a2","panel":"a","x0":19.195,"y0":57.7,"x1":19.51,"y1":195},
      {"id":"b1","panel":"b","x0":18.30,"y0":1223,"x1":18.66,"y1":264},
      {"id":"b2","panel":"b","x0":19.20,"y0":59.6,"x1":19.37,"y1":190}
    ]
  },
  "hconcat": [
    {
      "width": 458,
      "height": 370,
      "layer": [
        {
          "data": {"name": "a"},
          "mark": {"type": "line", "strokeWidth": 1.8, "interpolate": "monotone"},
          "encoding": {
            "x": {"field": "tt", "type": "quantitative", "title": "2θ (°)", "scale": {"domain": [17.5, 20.25], "nice": false, "zero": false},
              "axis": {"values": [17.5,17.75,18,18.25,18.5,18.75,19,19.25,19.5,19.75,20], "labelExpr": "datum.value % 0.5 === 0 ? format(datum.value, '.1f') : ''", "labelFlush": false, "labelOverlap": false, "tickSize": {"condition": {"test": "datum.value % 0.5 === 0", "value": 6}, "value": 4}, "labelPadding": 6, "titlePadding": 13}},
            "y": {"field": "I", "type": "quantitative", "title": "Intensity (a.u.)", "scale": {"type": "log", "domain": [50, 1810], "nice": false},
              "axis": {"values": [60,70,80,90,100,200,300,400,500,600,700,800,900,1000], "labels": false, "tickSize": {"condition": {"test": "datum.value === 100 || datum.value === 1000", "value": 7}, "value": 4}, "titlePadding": 19}},
            "color": {"field": "E", "type": "nominal",
              "scale": {"domain": ["0 V/µm","25 V/µm","37.5 V/µm","50 V/µm","62.5 V/µm"], "range": ["#000000","#e3191c","#30d830","#1f1fd6","#f0922a"]},
              "legend": {"orient": "none", "legendX": 311, "legendY": 5, "title": null, "symbolType": "M-1,0H7", "symbolSize": 121, "symbolStrokeWidth": 1.8, "labelFontSize": 18, "labelFontWeight": "bold", "labelOffset": 32, "rowPadding": 4, "padding": 4, "strokeColor": "#9a9a9a", "fillColor": "white"}}
          }
        },
        {
          "data": {"name": "arrows"},
          "transform": [{"filter": "datum.panel === 'a'"}],
          "mark": {"type": "rule", "strokeWidth": 1.5, "color": "#111111"},
          "encoding": {
            "x": {"field": "x0", "type": "quantitative", "title": "2θ (°)", "scale": {"domain": [17.5, 20.25], "nice": false, "zero": false}},
            "y": {"field": "y0", "type": "quantitative", "title": "Intensity (a.u.)", "scale": {"type": "log", "domain": [50, 1810], "nice": false}},
            "x2": {"field": "x1"},
            "y2": {"field": "y1"}
          }
        },
        {
          "data": {"name": "arrows"},
          "transform": [{"filter": "datum.id === 'a1'"}],
          "mark": {"type": "point", "shape": "triangle-up", "angle": 167.7, "filled": true, "size": 100, "color": "#111111", "opacity": 1},
          "encoding": {
            "x": {"field": "x1", "type": "quantitative", "title": "2θ (°)", "scale": {"domain": [17.5, 20.25], "nice": false, "zero": false}},
            "y": {"field": "y1", "type": "quantitative", "title": "Intensity (a.u.)", "scale": {"type": "log", "domain": [50, 1810], "nice": false}}
          }
        },
        {
          "data": {"name": "arrows"},
          "transform": [{"filter": "datum.id === 'a2'"}],
          "mark": {"type": "point", "shape": "triangle-up", "angle": 22.8, "filled": true, "size": 100, "color": "#111111", "opacity": 1},
          "encoding": {
            "x": {"field": "x1", "type": "quantitative", "title": "2θ (°)", "scale": {"domain": [17.5, 20.25], "nice": false, "zero": false}},
            "y": {"field": "y1", "type": "quantitative", "title": "Intensity (a.u.)", "scale": {"type": "log", "domain": [50, 1810], "nice": false}}
          }
        },
        {
          "data": {"name": "notes"},
          "transform": [{"filter": "datum.panel === 'a'"}],
          "mark": {"type": "text", "fontSize": 20, "fontWeight": "bold", "font": "Liberation Sans", "color": "#111111"},
          "encoding": {
            "x": {"field": "tt", "type": "quantitative", "title": "2θ (°)", "scale": {"domain": [17.5, 20.25], "nice": false, "zero": false}},
            "y": {"field": "I", "type": "quantitative", "title": "Intensity (a.u.)", "scale": {"type": "log", "domain": [50, 1810], "nice": false}},
            "text": {"field": "label"}
          }
        }
      ]
    },
    {
      "width": 455,
      "height": 363,
      "layer": [
        {
          "data": {"name": "b"},
          "mark": {"type": "line", "strokeWidth": 1.8, "interpolate": "monotone"},
          "encoding": {
            "x": {"field": "tt", "type": "quantitative", "title": "2θ (°)", "scale": {"domain": [17.5, 20.5], "nice": false, "zero": false},
              "axis": {"values": [17.5,17.75,18,18.25,18.5,18.75,19,19.25,19.5,19.75,20,20.25,20.5], "labelExpr": "datum.value % 0.5 === 0 ? format(datum.value, '.1f') : ''", "labelFlush": false, "labelOverlap": false, "tickSize": {"condition": {"test": "datum.value % 0.5 === 0", "value": 6}, "value": 4}, "labelPadding": 6, "titlePadding": 17}},
            "y": {"field": "I", "type": "quantitative", "title": "Intensity (a.u.)", "scale": {"type": "log", "domain": [50, 1400], "nice": false},
              "axis": {"values": [60,70,80,90,100,200,300,400,500,600,700,800,900,1000], "labels": false, "tickSize": {"condition": {"test": "datum.value === 100 || datum.value === 1000", "value": 7}, "value": 4}, "titlePadding": 21}},
            "color": {"field": "E", "type": "nominal",
              "scale": {"domain": ["0 V/µm","25 V/µm","37.5 V/µm","50 V/µm","62.5 V/µm"], "range": ["#606060","#e3191c","#30d830","#1f1fd6","#f0922a"]},
              "legend": {"orient": "none", "legendX": 305, "legendY": 3, "title": null, "symbolType": "M-1,0H7", "symbolSize": 121, "symbolStrokeWidth": 1.8, "labelFontSize": 18, "labelFontWeight": "bold", "labelOffset": 32, "rowPadding": 5, "padding": 4, "strokeColor": "#9a9a9a", "fillColor": "white"}}
          }
        },
        {
          "data": {"name": "arrows"},
          "transform": [{"filter": "datum.panel === 'b'"}],
          "mark": {"type": "rule", "strokeWidth": 1.5, "color": "#111111"},
          "encoding": {
            "x": {"field": "x0", "type": "quantitative", "title": "2θ (°)", "scale": {"domain": [17.5, 20.5], "nice": false, "zero": false}},
            "y": {"field": "y0", "type": "quantitative", "title": "Intensity (a.u.)", "scale": {"type": "log", "domain": [50, 1400], "nice": false}},
            "x2": {"field": "x1"},
            "y2": {"field": "y1"}
          }
        },
        {
          "data": {"name": "arrows"},
          "transform": [{"filter": "datum.id === 'b1'"}],
          "mark": {"type": "point", "shape": "triangle-up", "angle": 162, "filled": true, "size": 100, "color": "#111111", "opacity": 1},
          "encoding": {
            "x": {"field": "x1", "type": "quantitative", "title": "2θ (°)", "scale": {"domain": [17.5, 20.5], "nice": false, "zero": false}},
            "y": {"field": "y1", "type": "quantitative", "title": "Intensity (a.u.)", "scale": {"type": "log", "domain": [50, 1400], "nice": false}}
          }
        },
        {
          "data": {"name": "arrows"},
          "transform": [{"filter": "datum.id === 'b2'"}],
          "mark": {"type": "point", "shape": "triangle-up", "angle": 11.5, "filled": true, "size": 100, "color": "#111111", "opacity": 1},
          "encoding": {
            "x": {"field": "x1", "type": "quantitative", "title": "2θ (°)", "scale": {"domain": [17.5, 20.5], "nice": false, "zero": false}},
            "y": {"field": "y1", "type": "quantitative", "title": "Intensity (a.u.)", "scale": {"type": "log", "domain": [50, 1400], "nice": false}}
          }
        },
        {
          "data": {"name": "notes"},
          "transform": [{"filter": "datum.panel === 'b'"}],
          "mark": {"type": "text", "fontSize": 18, "fontWeight": "bold", "font": "Liberation Sans", "color": "#111111"},
          "encoding": {
            "x": {"field": "tt", "type": "quantitative", "title": "2θ (°)", "scale": {"domain": [17.5, 20.5], "nice": false, "zero": false}},
            "y": {"field": "I", "type": "quantitative", "title": "Intensity (a.u.)", "scale": {"type": "log", "domain": [50, 1400], "nice": false}},
            "text": {"field": "label"}
          }
        }
      ]
    }
  ]
}
